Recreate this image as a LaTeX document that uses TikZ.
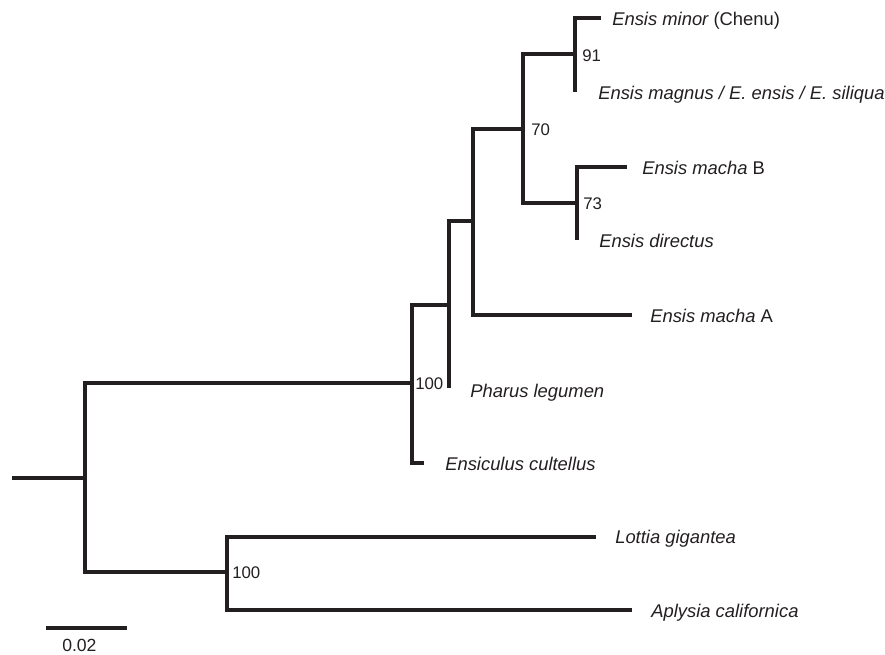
\documentclass[tikz,border=0pt]{standalone}
\usepackage{fontspec}
\setmainfont{Liberation Sans}
\usepackage{xcolor}
\usepackage{tikz}

\definecolor{treeink}{RGB}{35,31,32}

\tikzset{
  branch/.style={draw=treeink, line width=2.4pt, line join=miter, line cap=butt},
  taxon/.style={anchor=base west, inner sep=0pt, text=treeink, font=\fontsize{13.8}{16}\selectfont\itshape},
  support/.style={anchor=base west, inner sep=0pt, text=treeink, font=\fontsize{12.6}{15}\selectfont},
}

\begin{document}
\begin{tikzpicture}[x=0.75pt,y=0.75pt,yscale=-1,xscale=1]
\useasboundingbox (0,0) rectangle (885,654);

% internal nodes
\coordinate (r0) at (12,478);
\coordinate (n1) at (85,478);
\coordinate (n2) at (412,383);
\coordinate (n3) at (449,305);
\coordinate (n4) at (473,221);
\coordinate (n5) at (523,129);
\coordinate (n6) at (575,54);
\coordinate (n7) at (577,203);
\coordinate (n8) at (227,572);

% tips
\coordinate (minor) at (601,18);
\coordinate (magnus) at (575,92);
\coordinate (machaB) at (627,167);
\coordinate (directus) at (577,240);
\coordinate (machaA) at (632,315);
\coordinate (pharus) at (449,388);
\coordinate (ensiculus) at (424,463);
\coordinate (lottia) at (596,537);
\coordinate (aplysia) at (632,610);

% branches
\draw [branch] (r0) -- (n1);
\draw [branch] (n1) |- (n2);
\draw [branch] (n1) |- (n8);
\draw [branch] (n2) |- (n3);
\draw [branch] (n2) |- (ensiculus);
\draw [branch] (n3) |- (n4);
\draw [branch] (n3) |- (pharus);
\draw [branch] (n4) |- (n5);
\draw [branch] (n4) |- (machaA);
\draw [branch] (n5) |- (n6);
\draw [branch] (n5) |- (n7);
\draw [branch] (n6) |- (minor);
\draw [branch] (n6) |- (magnus);
\draw [branch] (n7) |- (machaB);
\draw [branch] (n7) |- (directus);
\draw [branch] (n8) |- (lottia);
\draw [branch] (n8) |- (aplysia);

% Text Node
\node [taxon] (minorlbl) at (612,25) {Ensis minor \upshape(Chenu)};
\node [taxon] (magnuslbl) at (598,99) {Ensis magnus / E. ensis / E. siliqua};
\node [taxon] (machaBlbl) at (642,174) {Ensis macha \upshape B};
\node [taxon] (directuslbl) at (599,247) {Ensis directus};
\node [taxon] (machaAlbl) at (650,322) {Ensis macha \upshape A};
\node [taxon] (pharuslbl) at (470,397) {Pharus legumen};
\node [taxon] (ensiculuslbl) at (445,470) {Ensiculus cultellus};
\node [taxon] (lottialbl) at (615,543) {Lottia gigantea};
\node [taxon] (aplysialbl) at (651,617) {Aplysia californica};

% bootstrap values
\node [support] (bs91) at (582,61) {91};
\node [support] (bs70) at (531,135) {70};
\node [support] (bs73) at (583,209) {73};
\node [support] (bs100a) at (415,389) {100};
\node [support] (bs100b) at (232,578) {100};

% scale bar
\coordinate (sb0) at (46,628);
\coordinate (sb1) at (127,628);
\draw [branch] (sb0) -- (sb1);
\node [support, font=\fontsize{13.2}{15}\selectfont] (sblbl) at (62,651) {0.02};
\end{tikzpicture}
\end{document}
